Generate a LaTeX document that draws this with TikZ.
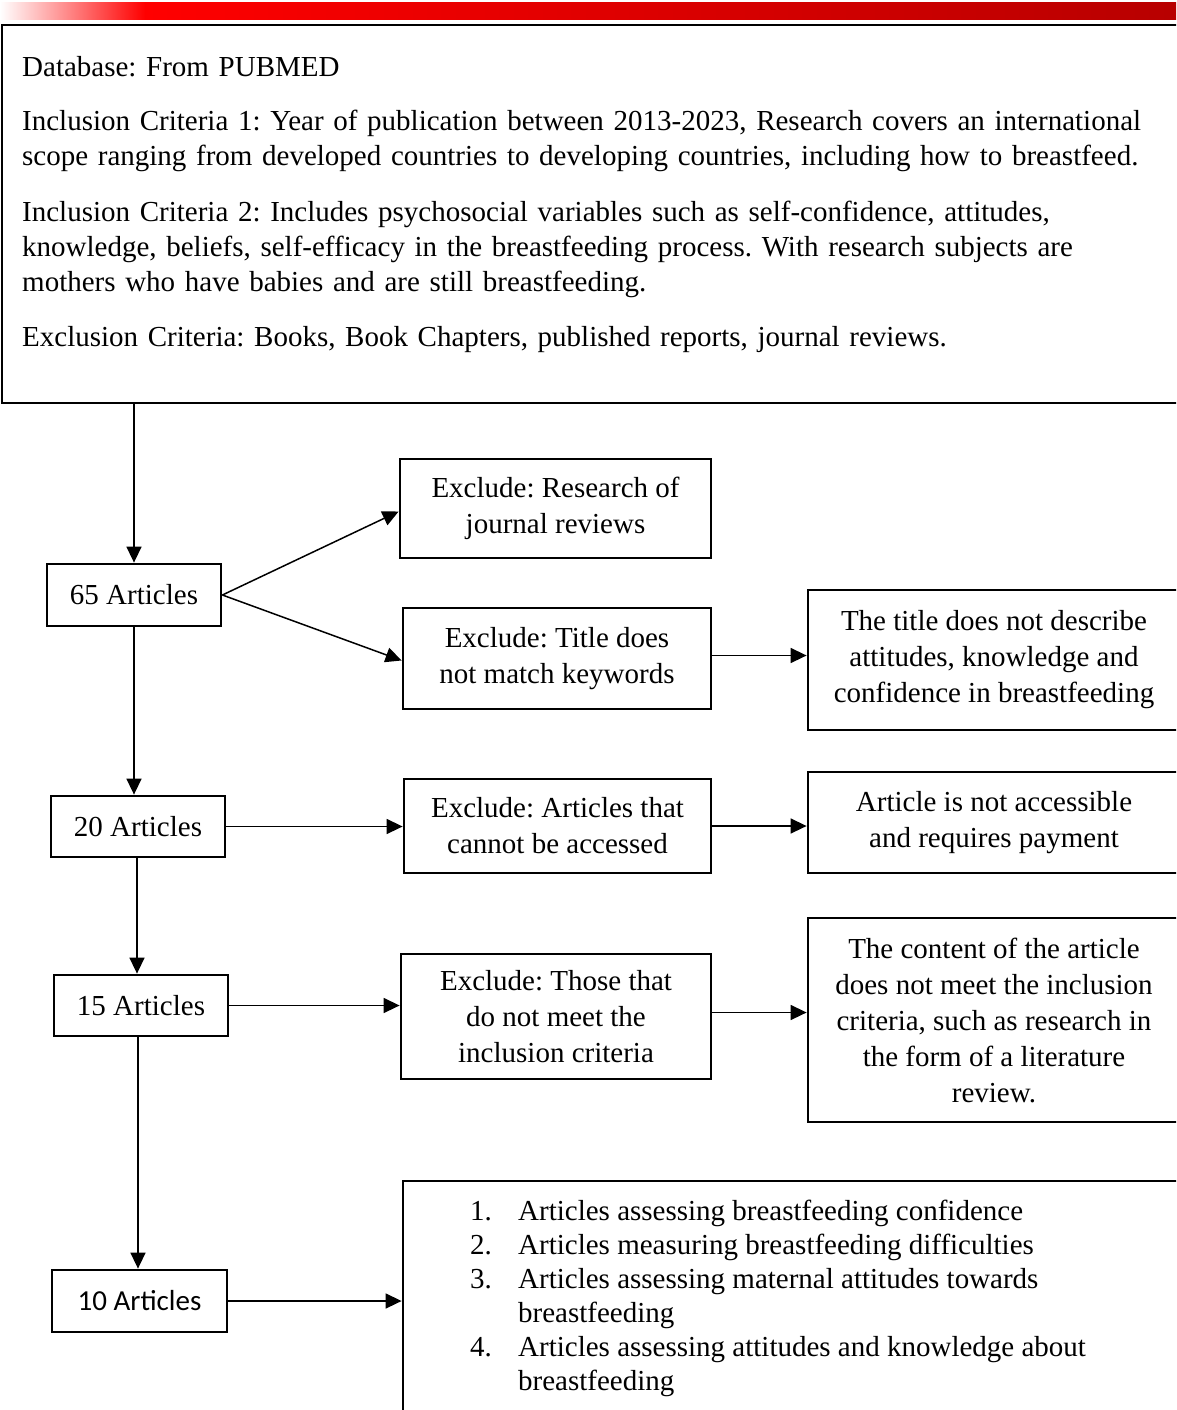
\documentclass[tikz,border=0pt]{standalone}
\usepackage{fontspec}
\setmainfont{Liberation Serif}
\newfontfamily\calib{Carlito}
\usetikzlibrary{arrows.meta,calc}
\frenchspacing
\tikzset{
  boxstyle/.style={draw=black, line width=2.8pt, inner sep=0pt, align=center,
    font=\fontsize{29}{36}\selectfont},
  para/.style={anchor=base west, inner sep=0pt, text width=1150pt, align=left,
    font=\fontsize{29}{35}\selectfont},
  conn/.style={draw=black, line width=1.5pt},
  arr/.style={conn, -{Triangle[length=16pt,width=15pt]}},
}
\begin{document}
\begin{tikzpicture}[x=1pt,y=1pt]
\useasboundingbox (0,0) rectangle (1176,-1410);
\clip (0,0) rectangle (1176,-1410);
% gradient bar
\shade[left color=white, right color=red] (0,-3) rectangle (145,-20);
\shade[left color=red, right color=red!72!black] (145,-3) rectangle (1176,-20);
% top box
\node[boxstyle, minimum width=1188pt, minimum height=378pt] (top) at (596,-214) {};
\node[para] (p0) at (22,-77) {Database: From PUBMED};
\node[para] (p1) at (22,-131) {Inclusion Criteria 1: Year of publication between 2013-2023, Research covers an international\\scope ranging from developed countries to developing countries, including how to breastfeed.};
\node[para] (p2) at (22,-221) {Inclusion Criteria 2: Includes psychosocial variables such as self-confidence, attitudes,\\knowledge, beliefs, self-efficacy in the breastfeeding process. With research subjects are\\mothers who have babies and are still breastfeeding.};
\node[para] (p3) at (22,-346) {Exclusion Criteria: Books, Book Chapters, published reports, journal reviews.};
% article count boxes
\node[boxstyle, minimum width=174pt, minimum height=62pt] (a65) at (134,-595) {65 Articles};
\node[boxstyle, minimum width=174pt, minimum height=61pt] (a20) at (138,-826.5) {20 Articles};
\node[boxstyle, minimum width=174pt, minimum height=61pt] (a15) at (141,-1005.5) {15 Articles};
\node[boxstyle, minimum width=175pt, minimum height=62pt, font=\calib\fontsize{29}{35}\selectfont] (a10) at (139.5,-1301) {10 Articles};
% exclusion boxes
\node[boxstyle, minimum width=311pt, minimum height=99pt] (exR) at (555.5,-508.5) {Exclude: Research of\\journal reviews};
\node[boxstyle, minimum width=308pt, minimum height=101pt] (exT) at (557,-658.5) {Exclude: Title does\\not match keywords};
\node[boxstyle, minimum width=307pt, minimum height=94pt] (exA) at (557.5,-826) {Exclude: Articles that\\cannot be accessed};
\node[boxstyle, minimum width=310pt, minimum height=125pt] (exI) at (556,-1016.5) {Exclude: Those that\\do not meet the\\inclusion criteria};
% description boxes
\node[boxstyle, minimum width=372pt, minimum height=140pt] (dT) at (994,-660) {The title does not describe\\attitudes, knowledge and\\confidence in breastfeeding};
\node[boxstyle, minimum width=372pt, minimum height=101pt] (dA) at (994,-822.5) {Article is not accessible\\and requires payment};
\node[boxstyle, minimum width=372pt, minimum height=204pt] (dI) at (994,-1020) {The content of the article\\does not meet the inclusion\\criteria, such as research in\\the form of a literature\\review.};
% result box
\node[boxstyle, minimum width=777pt, minimum height=250pt] (res) at (791.5,-1306) {};
\node[anchor=north west, inner sep=0pt, font=\fontsize{29}{34}\selectfont] (list) at (470,-1196) {%
\begin{tabular}{@{}p{48pt}@{}l@{}}
1. & Articles assessing breastfeeding confidence\\
2. & Articles measuring breastfeeding difficulties\\
3. & Articles assessing maternal attitudes towards\\
   & breastfeeding\\
4. & Articles assessing attitudes and knowledge about\\
   & breastfeeding
\end{tabular}};
% connectors
\draw[arr] (a65.north |- top.south) -- (a65.north);
\draw[arr] (a65.south) -- (a65.south |- a20.north);
\draw[arr] ([xshift=-1pt]a20.south) -- ([xshift=-1pt]a20.south |- a15.north);
\draw[arr] ([xshift=-3pt]a15.south) -- ([xshift=-3pt]a15.south |- a10.north);
\draw[arr] (a65.east) -- ([yshift=-3pt]exR.west);
\draw[arr] (a65.east) -- ([yshift=-2pt]exT.west);
\draw[arr] (a20.east) -- (a20.east -| exA.west);
\draw[arr] (a15.east) -- (a15.east -| exI.west);
\draw[arr] (a10.east) -- (a10.east -| res.west);
\draw[arr] ([yshift=3pt]exT.east) -- ([yshift=3pt]exT.east -| dT.west);
\draw[arr] (exA.east) -- (exA.east -| dA.west);
\draw[arr] ([yshift=4pt]exI.east) -- ([yshift=4pt]exI.east -| dI.west);
\end{tikzpicture}
\end{document}
